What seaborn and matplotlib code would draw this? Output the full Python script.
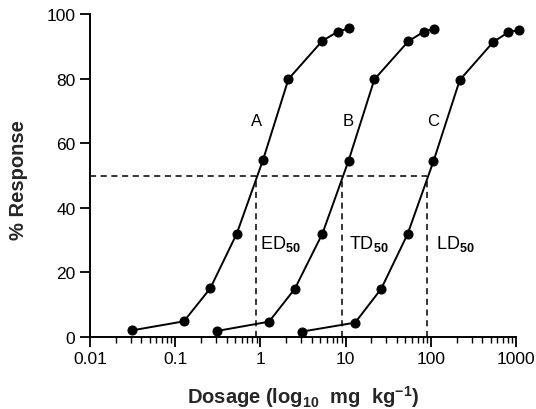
import numpy as np
import pandas as pd
import matplotlib
matplotlib.use("Agg")
import matplotlib.pyplot as plt
import matplotlib.ticker as mticker
import seaborn as sns

# ======================= Data =======================
curve_a_dose = [0.031, 0.126, 0.257, 0.527, 1.07, 2.13, 5.3, 8.1, 10.9]
curve_a_resp = [2.0, 4.8, 15.0, 32.0, 54.8, 79.9, 91.7, 94.6, 95.6]

curve_b_dose = [0.306, 1.26, 2.53, 5.33, 10.8, 21.7, 54.3, 81.8, 109]
curve_b_resp = [1.8, 4.7, 14.9, 32.0, 54.6, 79.8, 91.6, 94.5, 95.5]

curve_c_dose = [3.03, 12.9, 26.1, 53.3, 107, 218, 539, 811, 1084]
curve_c_resp = [1.6, 4.4, 14.9, 31.9, 54.4, 79.6, 91.4, 94.4, 95.1]

curve_names = ["A", "B", "C"]
label_dose = [0.91, 10.8, 106]
label_resp = 67

dose50_names = ["ED$_{\\mathbf{50}}$", "TD$_{\\mathbf{50}}$", "LD$_{\\mathbf{50}}$"]
dose50_values = [0.875, 9.0, 91.0]
dose50_label_x = [1.0, 10.9, 116.0]
dose50_label_y = 29
half_response = 50

x_ticks = [0.01, 0.1, 1, 10, 100, 1000]
x_ticklabels = ["0.01", "0.1", "1", "10", "100", "1000"]
y_ticks = [0, 20, 40, 60, 80, 100]

# ======================= Build long table =======================
df = pd.concat([
    pd.DataFrame({"dose": d, "response": r, "curve": n})
    for d, r, n in zip([curve_a_dose, curve_b_dose, curve_c_dose],
                       [curve_a_resp, curve_b_resp, curve_c_resp],
                       curve_names)
], ignore_index=True)

# ======================= Plot =======================
sns.set_style("ticks")
plt.rcParams["font.family"] = ["Liberation Sans", "DejaVu Sans"]
plt.rcParams["mathtext.fontset"] = "custom"
plt.rcParams["mathtext.rm"] = "Liberation Sans"
plt.rcParams["mathtext.bf"] = "Liberation Sans:bold"
plt.rcParams["mathtext.default"] = "regular"
plt.rcParams["text.color"] = "black"

fig = plt.figure(figsize=(5.36, 4.10), dpi=100)
ax = fig.add_axes([0.168, 0.176, 0.795, 0.787])

sns.lineplot(data=df, x="dose", y="response", units="curve", estimator=None,
             color="black", marker="o", markersize=6.5, markeredgecolor="black",
             linewidth=1.4, sort=False, ax=ax, legend=False)
for line in ax.lines:
    line.set_clip_on(False)

# dashed 50% guides
ax.hlines(half_response, x_ticks[0], dose50_values[-1], colors="black",
          linestyles=(0, (4, 3)), linewidth=1.1)
ax.vlines(dose50_values, 0, half_response, colors="black",
          linestyles=(0, (4, 3)), linewidth=1.1)

for name, x in zip(curve_names, label_dose):
    ax.text(x, label_resp, name, ha="center", va="center", fontsize=12, color="black")
for name, x in zip(dose50_names, dose50_label_x):
    ax.text(x, dose50_label_y, name, ha="left", va="center", fontsize=13, color="black")

ax.set_xscale("log")
ax.set_xlim(0.01, 1000)
ax.set_ylim(0, 100)
ax.set_xticks(x_ticks)
ax.set_xticklabels(x_ticklabels)
ax.xaxis.set_minor_locator(mticker.LogLocator(base=10, subs=np.arange(2, 10)))
ax.xaxis.set_minor_formatter(mticker.NullFormatter())
ax.set_yticks(y_ticks)
ax.tick_params(axis="both", which="major", labelsize=12.5, length=7, width=1.3,
               color="black", labelcolor="black")
ax.tick_params(axis="x", which="minor", length=4, width=1.0, color="black")

ax.set_xlabel("Dosage (log$_{10}$  mg  kg$^{-1}$)", fontsize=14.5, fontweight="bold")
ax.set_ylabel("% Response", fontsize=14.5, fontweight="bold")
ax.xaxis.set_label_coords(0.5, -0.142)
ax.yaxis.set_label_coords(-0.145, 0.49)

sns.despine(ax=ax)
for s in ["left", "bottom"]:
    ax.spines[s].set_linewidth(1.4)
    ax.spines[s].set_color("black")

plt.savefig("out.png", dpi=100)
plt.close()
